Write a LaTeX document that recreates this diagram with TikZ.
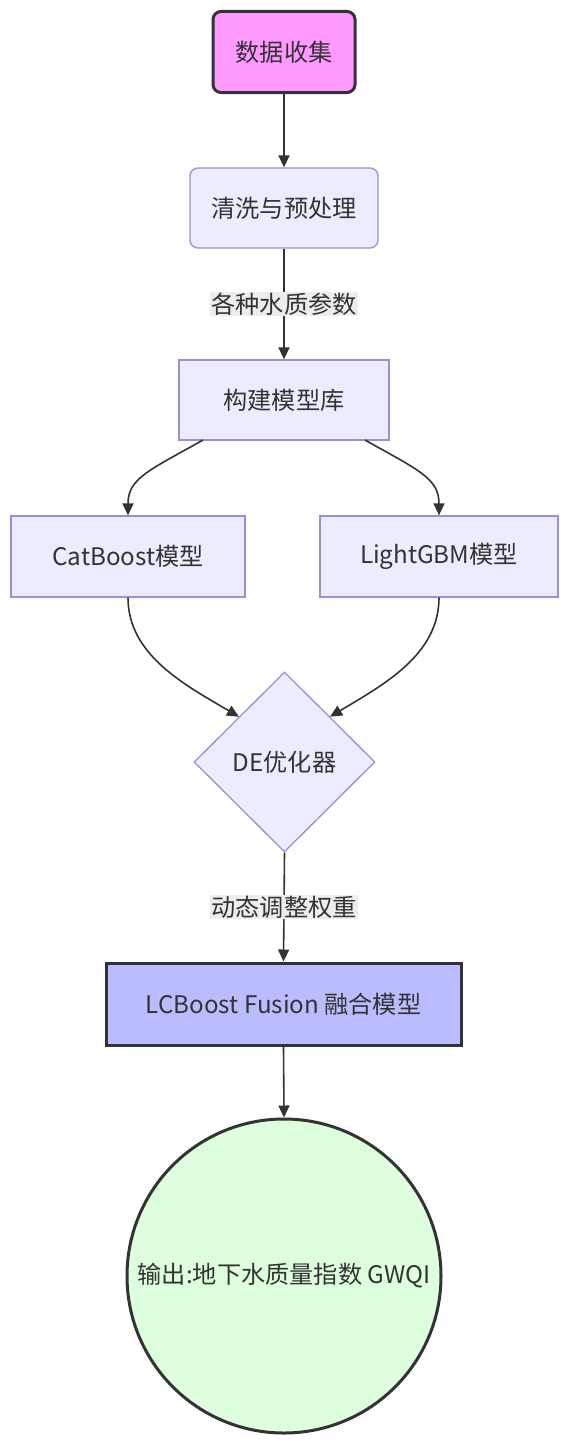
\documentclass[tikz,border=0pt]{standalone}
\usepackage{fontspec}
\setmainfont{Noto Sans CJK SC}
\usetikzlibrary{shapes.geometric,arrows.meta}
\definecolor{txt}{HTML}{333333}
\definecolor{pinkfill}{HTML}{FF99FF}
\definecolor{defill}{HTML}{ECECFF}
\definecolor{destroke}{HTML}{9C8FD6}
\definecolor{fusefill}{HTML}{BBBBFF}
\definecolor{outfill}{HTML}{DDFFDD}
\definecolor{lblfill}{HTML}{EDEDED}
\tikzset{
  base/.style={draw=destroke, line width=1.3pt, fill=defill, text=txt, inner sep=0pt,
    font=\fontsize{24.2}{29}\selectfont, align=center},
  roundbox/.style={base, rounded corners=8pt},
  sqbox/.style={base},
  strong/.style={draw=txt, line width=3pt},
  conn/.style={draw=txt, line width=1.6pt, -{Triangle[length=12pt,width=11pt]}},
  elabel/.style={fill=lblfill, text=txt, inner sep=1pt, font=\fontsize{24.2}{29}\selectfont}
}
\begin{document}
\begin{tikzpicture}[x=1pt,y=-1pt]
\useasboundingbox (0,0) rectangle (570,1445);
\node[roundbox, strong, fill=pinkfill, minimum width=142pt, minimum height=81pt] (collect) at (284,52) {数据收集};
\node[roundbox, minimum width=188pt, minimum height=80pt] (clean) at (284,208) {清洗与预处理};
\node[sqbox, minimum width=210pt, minimum height=80pt] (lib) at (284,400) {构建模型库};
\node[sqbox, minimum width=234pt, minimum height=81pt] (cat) at (128,556.5) {CatBoost模型};
\node[sqbox, minimum width=238pt, minimum height=81pt] (lgb) at (439,556.5) {LightGBM模型};
\node[base, diamond, minimum width=181pt, minimum height=180pt] (de) at (284.5,762) {DE优化器};
\node[sqbox, strong, fill=fusefill, minimum width=355pt, minimum height=82pt] (fuse) at (283.5,1004) {LCBoost Fusion 融合模型};
\node[base, strong, circle, fill=outfill, minimum size=314pt] (out) at (284,1276) {输出:地下水质量指数 GWQI};

\coordinate (libL) at (203,440);
\coordinate (libR) at (365,440);

\draw[conn] (collect.south) -- (clean.north);
\draw[conn] (clean.south) -- node[elabel] {各种水质参数} (lib.north);
\draw[conn] (libL) .. controls (150,470) and (128,478) .. (cat.north);
\draw[conn] (libR) .. controls (418,470) and (439,478) .. (lgb.north);
\draw[conn] (cat.south) .. controls (128,655) and (185,685) .. (de.north west);
\draw[conn] (lgb.south) .. controls (439,655) and (383,685) .. (de.north east);
\draw[conn] (de.south) -- node[elabel] {动态调整权重} (fuse.north);
\draw[conn] (fuse.south) -- (out.north);
\end{tikzpicture}
\end{document}
